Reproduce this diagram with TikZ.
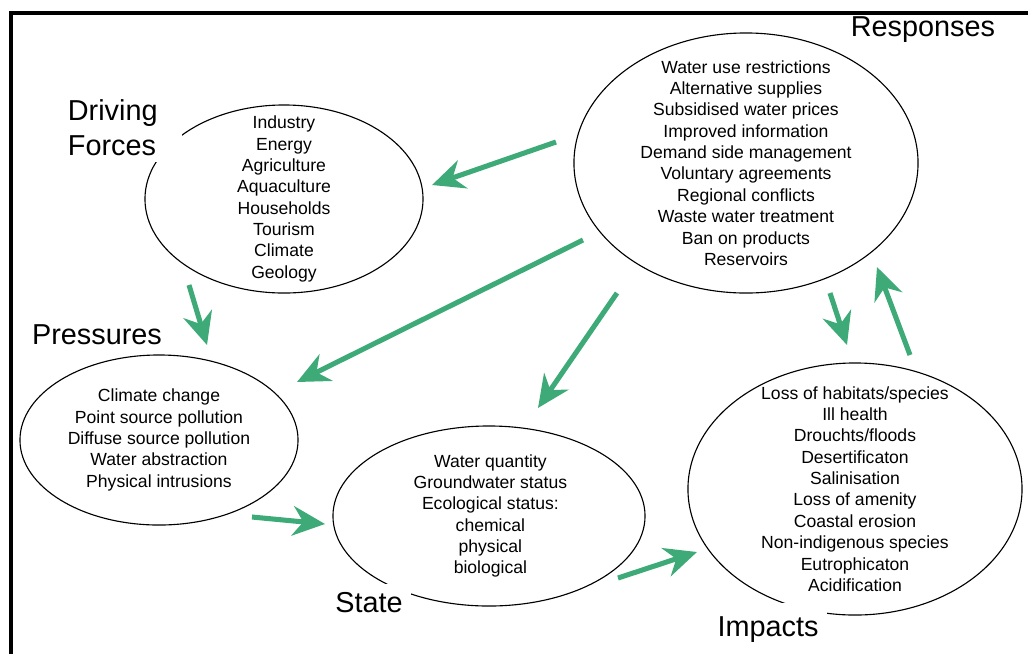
\documentclass[tikz,border=0pt]{standalone}
\usepackage{fontspec}
\setmainfont{Liberation Sans}
\usepackage{tikz}
\usetikzlibrary{
  arrows.meta,
  positioning,
  shapes.geometric,
}
\definecolor{flowgreen}{HTML}{3DAA78}
\tikzset{
  ring/.style={
    ellipse, draw=black, line width=0.8pt, inner sep=0pt,
  },
  itemlist/.style={
    align=center, inner sep=0pt, font=\fontsize{12.5}{15.2}\selectfont,
  },
  dpsir/.style={
    fill=white, inner sep=6pt, font=\fontsize{20.5}{24.8}\selectfont,
  },
  flow/.style={
    -{Stealth[length=23pt,width=21pt,inset=7.5pt]}, line width=3.6pt,
    draw=flowgreen,
  },
}

\begin{document}
\begin{tikzpicture}[x=0.025cm, y=-0.025cm]
\useasboundingbox (0,0) rectangle (1028,654);

% Ellipses
\node[ring, minimum width=6.95cm, minimum height=4.7cm] (drive) at (284,199) {};
\node[ring, minimum width=8.6cm, minimum height=6.5cm] (resp) at (746,163) {};
\node[ring, minimum width=6.95cm, minimum height=4.25cm] (press) at (159,440) {};
\node[ring, minimum width=7.8cm, minimum height=4.5cm] (state) at (489,516) {};
\node[ring, minimum width=8.35cm, minimum height=6.3cm] (impact) at (855,489) {};

% Lists
\node[itemlist] (driveList) at (drive) {Industry\\Energy\\Agriculture\\Aquaculture\\
  Households\\Tourism\\Climate\\Geology};
\node[itemlist] (respList) at (resp) {Water use restrictions\\Alternative supplies\\
  Subsidised water prices\\Improved information\\Demand side management\\
  Voluntary agreements\\Regional conflicts\\Waste water treatment\\
  Ban on products\\Reservoirs};
\node[itemlist] (pressList) at (press) {Climate change\\Point source pollution\\
  Diffuse source pollution\\Water abstraction\\Physical intrusions};
\node[itemlist] (stateList) at ([xshift=1]state.center) {Water quantity\\
  Groundwater status\\Ecological status:\\chemical\\physical\\biological};
\node[itemlist] (impactList) at (impact) {Loss of habitats/species\\Ill health\\
  Drouchts/floods\\Desertificaton\\Salinisation\\Loss of amenity\\
  Coastal erosion\\Non-indigenous species\\Eutrophicaton\\Acidification};

% Titles
\node[dpsir, inner sep=4pt, anchor=north west, align=left, text width=2.7cm]
  (driveLabel) at (62,94) {Driving\\Forces};
\node[dpsir] (respLabel) at (923,30) {Responses};
\node[dpsir, inner xsep=9pt] (pressLabel) at (97,335) {Pressures};
\node[dpsir] (stateLabel) at (369,603) {State};
\node[dpsir, inner ysep=10pt] (impactLabel) at (768,630) {Impacts};

% Frame (open to the right and bottom)
\draw[line width=2.4pt] (1028,13) -- (11,13) -- (11,654);

% Arrows
\draw[flow] ([shift={(-190,-21)}]resp.center) -- ([shift={(148,-14)}]drive.center);
\draw[flow] ([shift={(-163,77)}]resp.center) -- ([shift={(138,-58)}]press.center);
\draw[flow] ([shift={(-129,130)}]resp.center) -- ([shift={(49,-108)}]state.center);
\draw[flow] ([shift={(84,130)}]resp.center) -- ([shift={(-8,-144)}]impact.center);
\draw[flow] ([shift={(55,-134)}]impact.center) -- ([shift={(131,104)}]resp.center);
\draw[flow] ([shift={(-95,86)}]drive.center) -- ([shift={(48,-95)}]press.center);
\draw[flow] ([shift={(93,77)}]press.center) -- ([shift={(-164,8)}]state.center);
\draw[flow] ([shift={(129,62)}]state.center) -- ([shift={(-158,63)}]impact.center);

\end{tikzpicture}
\end{document}
